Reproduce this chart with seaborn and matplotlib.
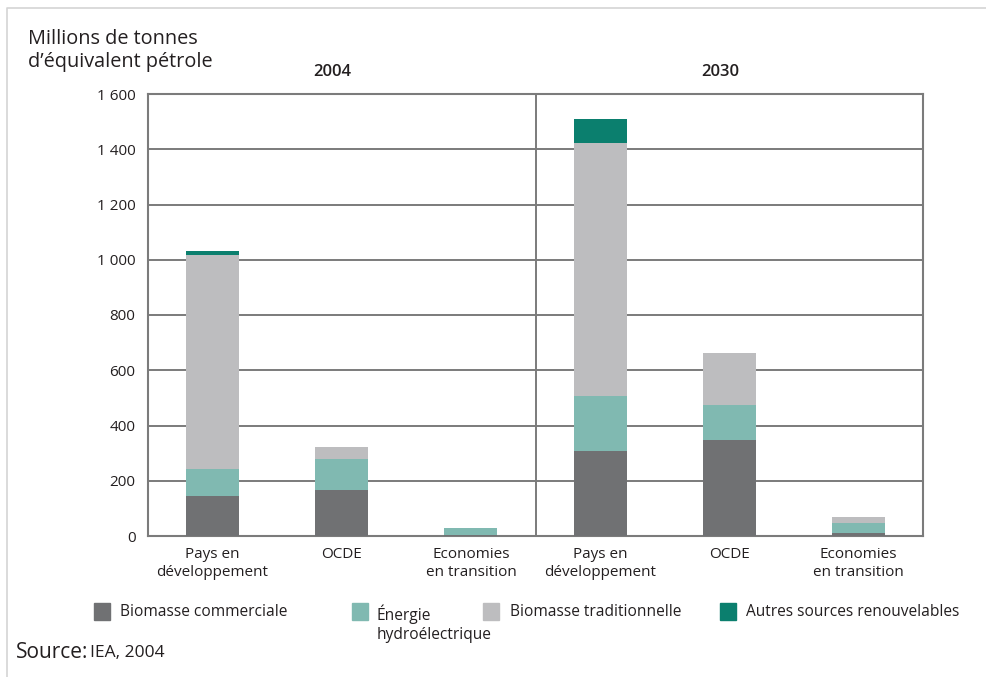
import numpy as np
import pandas as pd
import matplotlib
matplotlib.use("Agg")
import matplotlib.pyplot as plt
import seaborn as sns
from matplotlib.patches import Rectangle
from matplotlib.lines import Line2D

# Data (Mtep)
years = ["2004", "2030"]
regions = ["Pays en\ndéveloppement", "OCDE", "Economies\nen transition"]
biomasse_commerciale = [145, 166, 2, 308, 349, 12]
energie_hydro = [97, 112, 28, 197, 127, 36]
biomasse_traditionnelle = [776, 43, 0, 919, 185, 19]
autres_renouvelables = [14, 0, 0, 87, 0, 0]

series_names = ["Biomasse commerciale", "Énergie\nhydroélectrique",
                "Biomasse traditionnelle", "Autres sources renouvelables"]
colors = ["#707173", "#80b9b1", "#bdbdbf", "#0b7f6e"]

slots = [f"{y} {r}" for y in years for r in regions]
df = pd.DataFrame({
    "slot": slots,
    "commerciale": biomasse_commerciale,
    "hydro": energie_hydro,
    "traditionnelle": biomasse_traditionnelle,
    "autres": autres_renouvelables,
})
cols = ["commerciale", "hydro", "traditionnelle", "autres"]
cum = df[cols].cumsum(axis=1)

sns.set_style("white")
plt.rcParams["font.family"] = ["Open Sans", "DejaVu Sans"]
text_color = "#231f20"
grid_color = "#7b7b7b"

fig = plt.figure(figsize=(9.87, 6.77), dpi=100)
ax = fig.add_axes([148 / 987, 1 - 536 / 677, (923 - 148) / 987, (536 - 94) / 677])

# stacked bars: draw cumulative totals from top layer down
for col, color in reversed(list(zip(cols, colors))):
    sns.barplot(x=df["slot"], y=cum[col], color=color, width=0.41,
                linewidth=0, saturation=1, ax=ax, order=slots, zorder=3)

ax.set_ylim(0, 1600)
ax.set_xlim(-0.5, 5.5)
ax.set_yticks(np.arange(0, 1601, 200))
ax.set_yticklabels([f"{v:,}".replace(",", " ") for v in range(0, 1601, 200)],
                   fontsize=11, color=text_color)
ax.set_xticks(range(len(slots)))
ax.set_xticklabels(regions * 2, fontsize=11, color=text_color, linespacing=1.25)
ax.tick_params(axis="both", length=0)
ax.tick_params(axis="y", pad=9)
ax.tick_params(axis="x", pad=8)
ax.set_xlabel("")
ax.set_ylabel("")
ax.yaxis.grid(True, color=grid_color, linewidth=1.4, zorder=1)
ax.set_axisbelow(True)
for sp in ax.spines.values():
    sp.set_visible(True)
    sp.set_color(grid_color)
    sp.set_linewidth(1.5)
ax.axvline(2.5, color=grid_color, linewidth=1.4, zorder=2)

# group labels
for i, y in enumerate(years):
    ax.text(0.93 + 3 * i, 1650, y, ha="center", va="bottom", fontsize=12,
            fontweight="semibold", color=text_color)

fig.text(28 / 987, 1 - 50 / 677, "Millions de tonnes\nd’équivalent pétrole",
         fontsize=14.3, color=text_color, va="center", ha="left", linespacing=1.2)

# legend
legend_pos = [(94, 120), (352, 377), (483, 510), (720, 746)]
for (px, tx), name, color in zip(legend_pos, series_names, colors):
    fig.patches.append(Rectangle((px / 987, 1 - 620 / 677), 16 / 987, 17 / 677,
                                 transform=fig.transFigure, color=color))
    fig.text(tx / 987, 1 - 604 / 677, name, fontsize=11.2, color=text_color,
             va="top", ha="left", linespacing=1.3)

fig.text(16 / 987, 1 - 652 / 677, "Source:", fontsize=15, color=text_color,
         va="center", ha="left")
fig.text(90 / 987, 1 - 653 / 677, "IEA, 2004", fontsize=12.5, color=text_color,
         va="center", ha="left")

# light frame of the original image
fig.lines.append(Line2D([7 / 987, 7 / 987, 1], [0, 1 - 8 / 677, 1 - 8 / 677],
                        transform=fig.transFigure, color="#d4d4d4", linewidth=1.2))

fig.savefig("out.png", dpi=100)
